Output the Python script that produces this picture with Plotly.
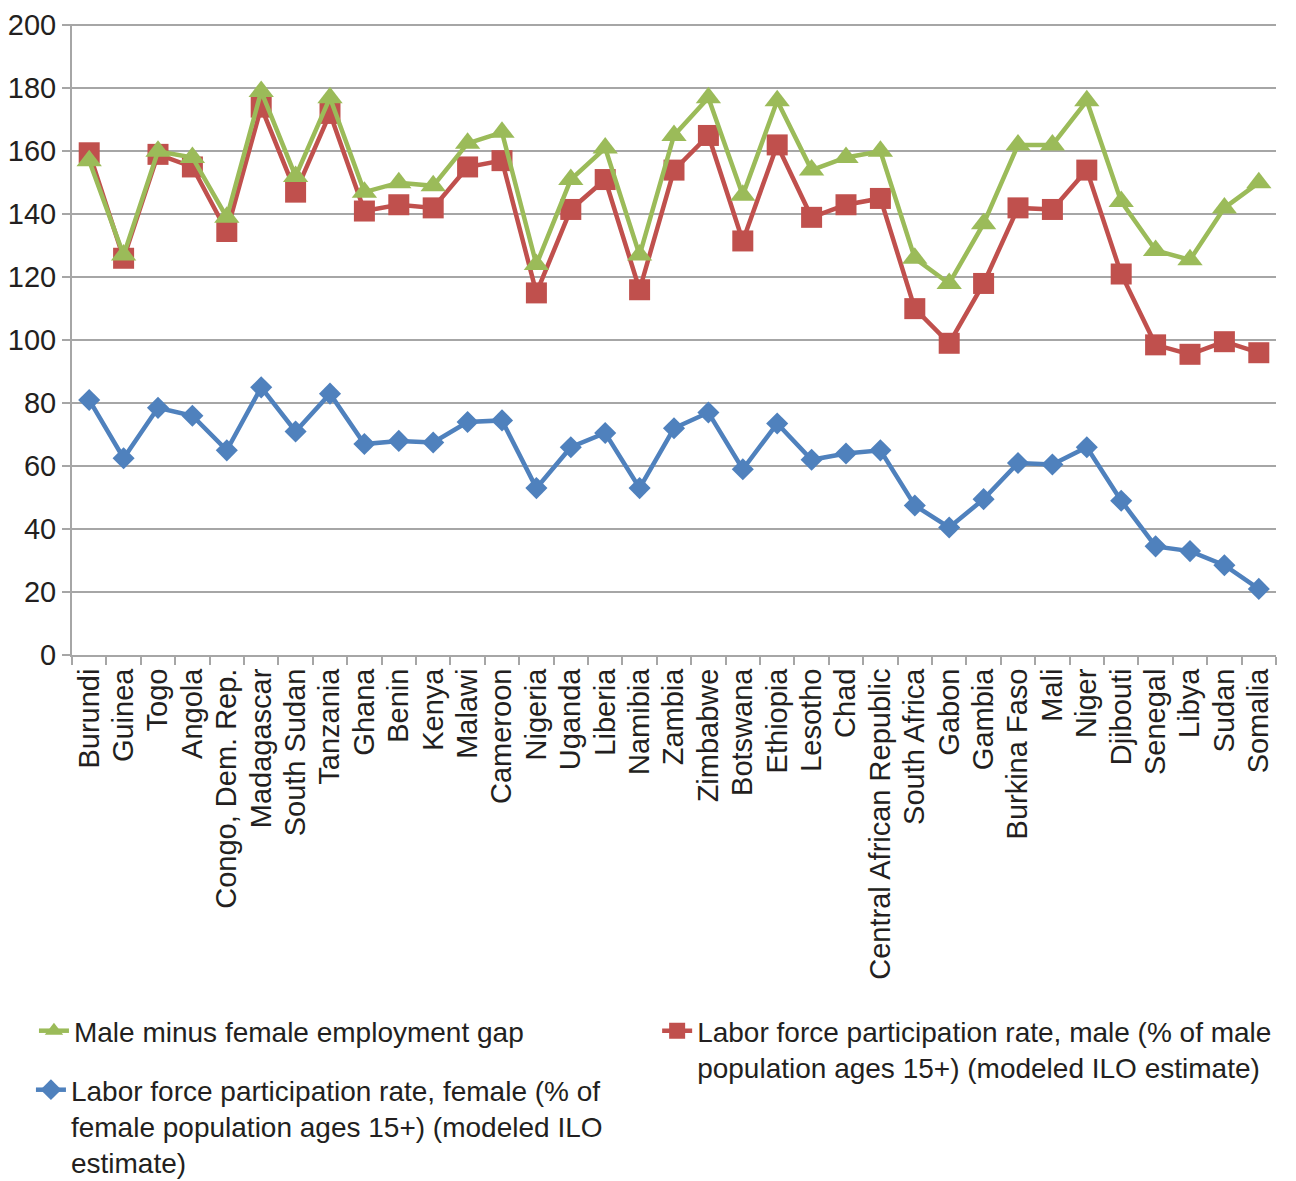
import plotly.graph_objects as go

countries = ["Burundi", "Guinea", "Togo", "Angola", "Congo, Dem. Rep.", "Madagascar",
             "South Sudan", "Tanzania", "Ghana", "Benin", "Kenya", "Malawi", "Cameroon",
             "Nigeria", "Uganda", "Liberia", "Namibia", "Zambia", "Zimbabwe", "Botswana",
             "Ethiopia", "Lesotho", "Chad", "Central African Republic", "South Africa",
             "Gabon", "Gambia", "Burkina Faso", "Mali", "Niger", "Djibouti", "Senegal",
             "Libya", "Sudan", "Somalia"]

gap = [157, 127, 160, 158, 139, 179, 152, 177, 147, 150, 149, 162.5, 166,
       124, 151, 161, 127, 165, 177, 146, 176, 154, 158, 160, 126,
       118, 137, 162, 162, 176, 144, 128.5, 125.5, 142, 150]

male = [159.5, 126, 159, 155, 134.5, 174, 147, 172, 141, 143, 142, 155, 157,
        115, 141.5, 151, 116, 154, 165, 131.5, 162, 139, 143, 145, 110,
        99, 118, 142, 141.5, 154, 121, 98.5, 95.5, 99.5, 96]

female = [81, 62.5, 78.5, 76, 65, 85, 71, 83, 67, 68, 67.5, 74, 74.5,
          53, 66, 70.5, 53, 72, 77, 59, 73.5, 62, 64, 65, 47.5,
          40.5, 49.5, 61, 60.5, 66, 49, 34.5, 33, 28.5, 21]

y_ticks = [0, 20, 40, 60, 80, 100, 120, 140, 160, 180, 200]

names = {
    "gap": "Male minus female employment gap",
    "male": "Labor force participation rate, male (% of male<br>population ages 15+) (modeled ILO estimate)",
    "female": "Labor force participation rate, female (% of<br>female population ages 15+) (modeled ILO<br>estimate)",
}

GREEN = "#9BBB59"
RED = "#C0504D"
BLUE = "#4F81BD"
FONT = "Liberation Sans, Arial, Helvetica, sans-serif"
TXT = "#231F20"
GRID = "#A6A6A6"
FS = 29
LFS = 28

fig = go.Figure()
fig.add_trace(go.Scatter(x=countries, y=female, name=names["female"], mode="lines+markers",
                         line=dict(color=BLUE, width=4.5),
                         marker=dict(symbol="diamond", size=17, color=BLUE),
                         legend="legend3"))
fig.add_trace(go.Scatter(x=countries, y=male, name=names["male"], mode="lines+markers",
                         line=dict(color=RED, width=4.5),
                         marker=dict(symbol="square", size=21, color=RED),
                         legend="legend2"))
fig.add_trace(go.Scatter(x=countries, y=gap, name=names["gap"], mode="lines+markers",
                         line=dict(color=GREEN, width=4.5),
                         marker=dict(symbol="triangle-up", size=22, color=GREEN),
                         legend="legend"))

leg_common = dict(xanchor="left", yanchor="top", valign="top",
                  font=dict(family=FONT, size=LFS, color=TXT),
                  bgcolor="rgba(0,0,0,0)")

TOP = 16
BOT = 526
PH = 1173.0 - TOP - BOT
def leg_y(top_px):
    # top_px: legend top in figure pixels
    return 1 - (top_px - TOP) / PH

fig.update_layout(
    width=1288, height=1173,
    margin=dict(l=64, r=20, t=TOP, b=BOT, autoexpand=False),
    paper_bgcolor="white", plot_bgcolor="white",
    font=dict(family=FONT, size=FS, color=TXT),
    showlegend=True,
    legend=dict(x=-0.0316, y=leg_y(998), **leg_common),
    legend2=dict(x=0.486, y=leg_y(998), **leg_common),
    legend3=dict(x=-0.0341, y=leg_y(1057), **leg_common),
    xaxis=dict(type="category", range=[-0.5, len(countries) - 0.5], tickangle=-90,
               automargin=False, tickmode="linear", tick0=0, dtick=1,
               showgrid=False, showline=True, linecolor=GRID, linewidth=2,
               ticks="outside", tickson="boundaries", ticklen=8, tickwidth=2, tickcolor=GRID,
               tickfont=dict(family=FONT, size=FS, color=TXT)),
    yaxis=dict(range=[0, 200.4], tickmode="array", tickvals=y_ticks,
               ticktext=[str(v) for v in y_ticks], ticklabeloverflow="allow",
               showgrid=True, gridcolor=GRID, gridwidth=2,
               automargin=False,
               showline=True, linecolor=GRID, linewidth=2, zeroline=False,
               ticks="outside", ticklen=8, tickwidth=2, tickcolor=GRID,
               tickfont=dict(family=FONT, size=FS, color=TXT)),
)

fig.write_html("out.html")
